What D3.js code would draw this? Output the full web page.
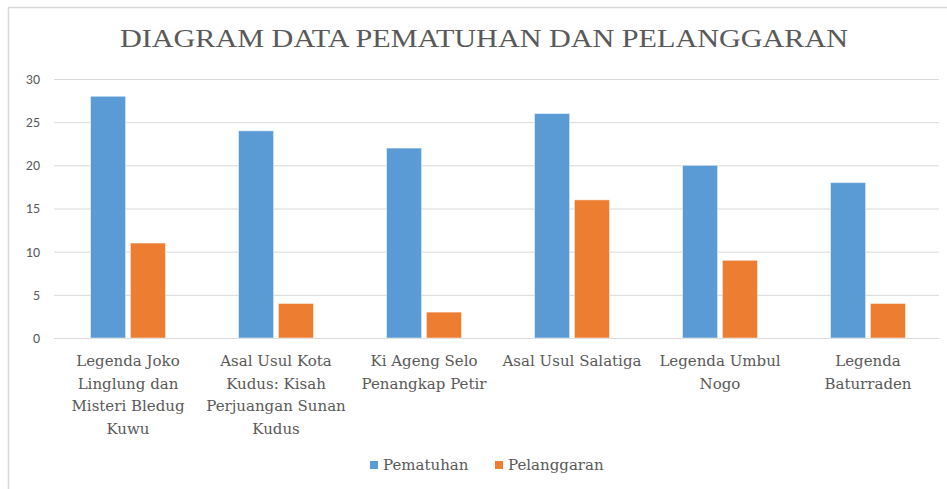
<!DOCTYPE html>
<html>
<head>
<meta charset="utf-8">
<script src="https://cdn.jsdelivr.net/npm/d3@7"></script>
<style>
  html, body { margin: 0; padding: 0; background: #fff; }
  svg { display: block; }
</style>
</head>
<body>
<svg id="chart" width="947" height="489"></svg>
<script>
const categories = [
  "Legenda Joko\nLinglung dan\nMisteri Bledug\nKuwu",
  "Asal Usul Kota\nKudus: Kisah\nPerjuangan Sunan\nKudus",
  "Ki Ageng Selo\nPenangkap Petir",
  "Asal Usul Salatiga",
  "Legenda Umbul\nNogo",
  "Legenda\nBaturraden"
];
const seriesNames = ["Pematuhan", "Pelanggaran"];
const pematuhan = [28, 24, 22, 26, 20, 18];
const pelanggaran = [11, 4, 3, 16, 9, 4];
const yTicks = [0, 5, 10, 15, 20, 25, 30];
const titleText = "DIAGRAM DATA PEMATUHAN DAN PELANGGARAN";
const colors = ["#5B9BD5", "#ED7D31"];

const svg = d3.select("#chart");
const W = 947, H = 489;
const margin = { left: 54 };
const plotW = 6 * 148;

// frame
svg.append("line").attr("x1", 8).attr("x2", W).attr("y1", 7.5).attr("y2", 7.5)
  .attr("stroke", "#d9d9d9").attr("stroke-width", 1.5);
svg.append("line").attr("x1", 8.5).attr("x2", 8.5).attr("y1", 7).attr("y2", H)
  .attr("stroke", "#d9d9d9").attr("stroke-width", 1.5);

const x0 = d3.scaleBand().domain(d3.range(categories.length))
  .range([margin.left, margin.left + plotW]).paddingInner(0).paddingOuter(0);
const y = d3.scaleLinear().domain([0, 30]).range([338, 79]);

// gridlines
const yAxis = d3.axisLeft(y).tickValues(yTicks).tickSize(-(plotW - 3)).tickPadding(14);
const gy = svg.append("g").attr("transform", `translate(${margin.left},0)`).call(yAxis);
gy.select(".domain").remove();
gy.selectAll(".tick line").attr("stroke", "#d9d9d9").attr("stroke-width", 1);
gy.selectAll(".tick text").attr("fill", "#595959")
  .style("font-family", "Carlito, 'Liberation Sans', Arial, sans-serif").style("font-size", "14px");

const barW = 33, gap = 9;
const data = categories.map((c, i) => ({ i, vals: [pematuhan[i], pelanggaran[i]] }));
const x1 = d3.scaleBand().domain([0, 1]).range([0, barW * 2 + gap]).paddingInner(gap / (barW * 2 + gap));

const groups = svg.append("g").selectAll("g").data(data).join("g")
  .attr("transform", d => `translate(${x0(d.i) + (x0.bandwidth() - (barW * 2 + gap)) / 2},0)`);
groups.selectAll("rect").data(d => d.vals.map((v, k) => ({ v, k }))).join("rect")
  .attr("x", d => x1(d.k))
  .attr("width", x1.bandwidth())
  .attr("y", d => y(d.v))
  .attr("height", d => y(0) - y(d.v))
  .attr("fill", d => colors[d.k])
  .attr("stroke", "#ffffff").attr("stroke-opacity", 0.5).attr("stroke-width", 1);

// category labels
const labelFont = "'DejaVu Serif', 'Liberation Serif', serif";
const lab = svg.append("g").selectAll("text").data(categories).join("text")
  .attr("x", (d, i) => x0(i) + x0.bandwidth() / 2)
  .attr("y", 366)
  .attr("text-anchor", "middle")
  .attr("fill", "#595959")
  .style("font-family", labelFont).style("font-size", "15px");
lab.each(function (d) {
  const t = d3.select(this);
  d.split("\n").forEach((line, li) => {
    t.append("tspan").attr("x", t.attr("x")).attr("dy", li === 0 ? 0 : 22.5).text(line);
  });
});

// title
svg.append("text").attr("x", 484).attr("y", 47).attr("text-anchor", "middle")
  .attr("fill", "#595959")
  .attr("textLength", 728).attr("lengthAdjust", "spacingAndGlyphs")
  .style("font-family", "'Liberation Serif', serif").style("font-size", "26px")
  .text(titleText);

// legend
const legendX = [370, 495];
const leg = svg.append("g").selectAll("g").data(seriesNames).join("g")
  .attr("transform", (d, i) => `translate(${legendX[i]},461)`);
leg.append("rect").attr("width", 8).attr("height", 8).attr("fill", (d, i) => colors[i]);
leg.append("text").attr("x", 13).attr("y", 9).attr("fill", "#595959")
  .style("font-family", labelFont).style("font-size", "15px").text(d => d);
</script>
</body>
</html>
